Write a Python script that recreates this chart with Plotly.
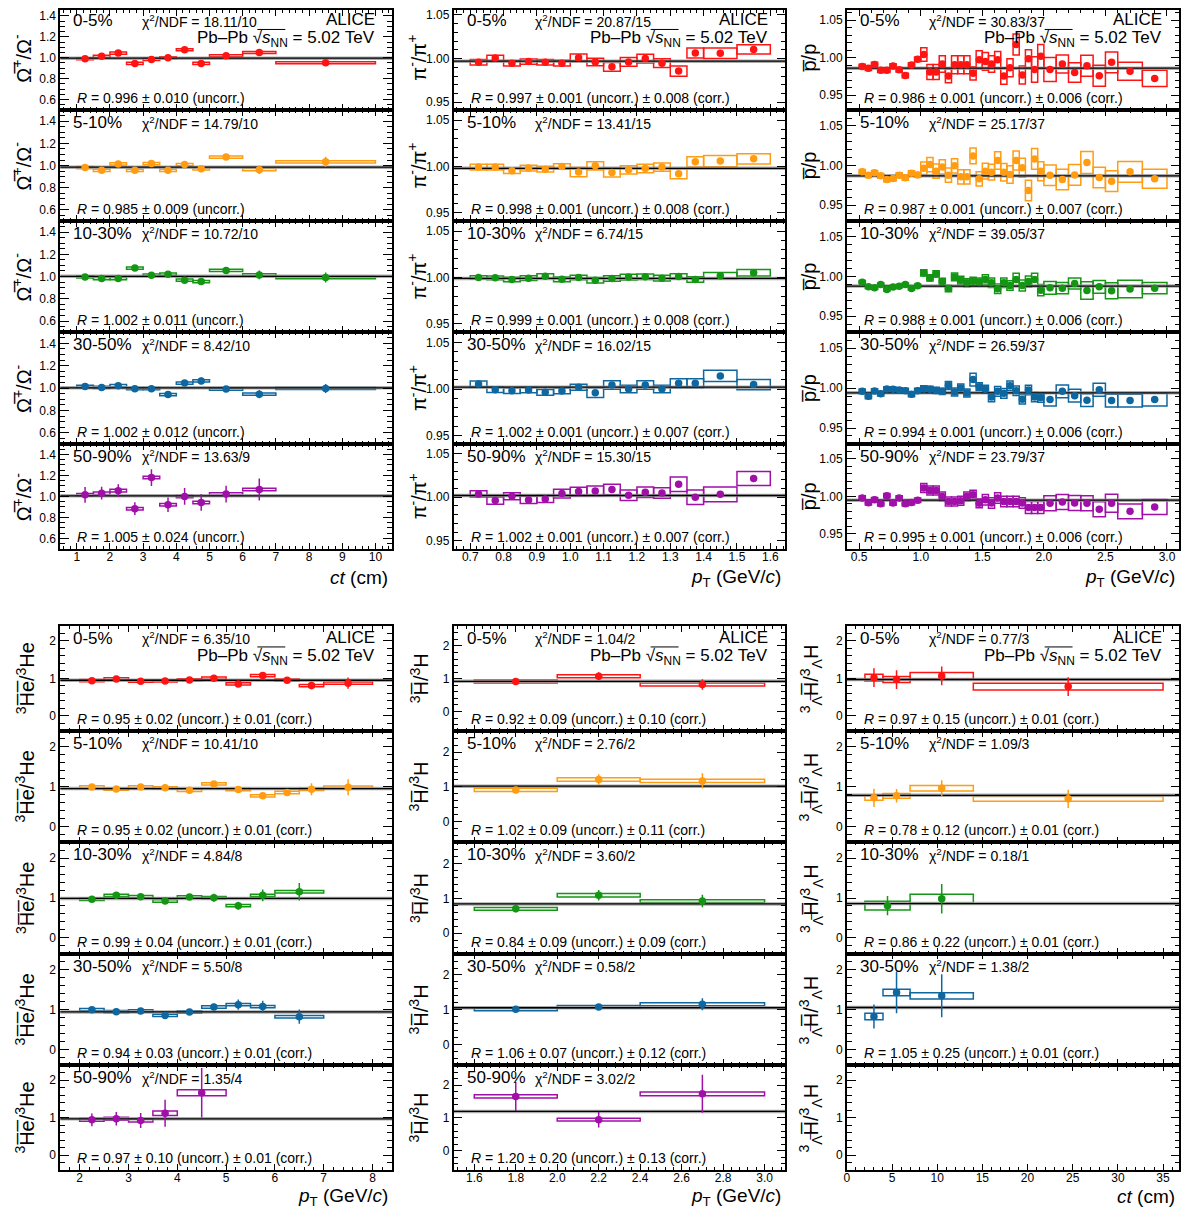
import plotly.graph_objects as go

# page body has an 8px default margin: draw in a slightly smaller figure and shift coordinates
OFF = 8
W, H = 1189 - 2 * OFF, 1214 - OFF
FONT = "Liberation Sans, Arial, Helvetica, sans-serif"

COLORS = ["#ff1414", "#ff9c12", "#149614", "#0f67a0", "#a010a8"]
CENT = ["0-5%", "5-10%", "10-30%", "30-50%", "50-90%"]

# ---------------- Omega+ / Omega-  vs ct ----------------
om_lo = [[1.0, 1.5, 2.0, 2.5, 3.0, 3.5, 4.0, 4.5, 5.0, 6.0, 7.0]] * 4 + [[1.0, 1.5, 2.0, 2.5, 3.0, 3.5, 4.0, 4.5, 5.0, 6.0]]
om_hi = [[1.5, 2.0, 2.5, 3.0, 3.5, 4.0, 4.5, 5.0, 6.0, 7.0, 10.0]] * 4 + [[1.5, 2.0, 2.5, 3.0, 3.5, 4.0, 4.5, 5.0, 6.0, 7.0]]
om_val = [
    [0.990, 1.013, 1.044, 0.946, 0.984, 1.000, 1.076, 0.946, 1.019, 1.050, 0.952],
    [0.982, 0.957, 1.015, 0.957, 1.018, 0.957, 1.009, 0.970, 1.076, 0.963, 1.034],
    [0.997, 0.982, 0.982, 1.076, 1.012, 1.021, 0.967, 0.955, 1.055, 1.015, 0.991],
    [1.015, 1.006, 1.021, 0.994, 0.994, 0.942, 1.045, 1.064, 0.991, 0.945, 0.997],
    [1.015, 1.031, 1.055, 0.883, 1.180, 0.920, 1.000, 0.942, 1.022, 1.065],
]
om_stat = [
    [0.018, 0.018, 0.020, 0.020, 0.020, 0.020, 0.022, 0.022, 0.020, 0.025, 0.030],
    [0.020, 0.020, 0.020, 0.020, 0.020, 0.020, 0.025, 0.030, 0.025, 0.040, 0.045],
    [0.015, 0.015, 0.015, 0.020, 0.020, 0.020, 0.025, 0.030, 0.025, 0.040, 0.045],
    [0.015, 0.015, 0.015, 0.015, 0.020, 0.020, 0.025, 0.030, 0.020, 0.035, 0.040],
    [0.075, 0.060, 0.060, 0.060, 0.080, 0.070, 0.080, 0.080, 0.080, 0.105],
]
om_sys = [
    [0.010, 0.010, 0.010, 0.010, 0.010, 0.010, 0.010, 0.010, 0.010, 0.010, 0.010],
    [0.010, 0.010, 0.010, 0.010, 0.010, 0.010, 0.010, 0.010, 0.010, 0.010, 0.010],
    [0.010, 0.010, 0.010, 0.010, 0.010, 0.010, 0.010, 0.010, 0.010, 0.010, 0.010],
    [0.010, 0.010, 0.010, 0.010, 0.010, 0.010, 0.010, 0.010, 0.010, 0.010, 0.010],
    [0.012, 0.012, 0.012, 0.012, 0.012, 0.012, 0.012, 0.012, 0.012, 0.012],
]
om_R = ["0.996 ± 0.010", "0.985 ± 0.009", "1.002 ± 0.011", "1.002 ± 0.012", "1.005 ± 0.024"]
om_Rval = [0.996, 0.985, 1.002, 1.002, 1.005]
om_chi = ["18.11/10", "14.79/10", "10.72/10", "8.42/10", "13.63/9"]

# ---------------- pi- / pi+ vs pT ----------------
pi_bins_lo = [0.70, 0.75, 0.80, 0.85, 0.90, 0.95, 1.00, 1.05, 1.10, 1.15, 1.20, 1.25, 1.30, 1.35, 1.40, 1.50]
pi_bins_hi = [0.75, 0.80, 0.85, 0.90, 0.95, 1.00, 1.05, 1.10, 1.15, 1.20, 1.25, 1.30, 1.35, 1.40, 1.50, 1.60]
pi_lo = [pi_bins_lo] * 5
pi_hi = [pi_bins_hi] * 5
pi_val = [
    [0.9959, 1.0008, 0.9947, 0.9966, 0.9959, 0.9947, 1.0011, 0.9962, 0.9906, 0.9962, 1.0000, 0.9947, 0.9857, 1.0064, 1.0060, 1.0105],
    [0.9993, 0.9993, 0.9953, 0.9982, 0.9971, 1.0000, 0.9939, 1.0007, 0.9935, 0.9964, 0.9978, 0.9993, 0.9921, 1.0050, 1.0058, 1.0083],
    [1.0000, 0.9996, 0.9978, 0.9993, 1.0014, 0.9980, 1.0000, 0.9970, 0.9990, 1.0004, 1.0007, 0.9993, 1.0010, 0.9978, 1.0018, 1.0050],
    [1.0054, 0.9993, 0.9982, 0.9989, 0.9964, 0.9978, 1.0018, 0.9960, 1.0043, 1.0000, 1.0043, 1.0000, 1.0061, 1.0061, 1.0140, 1.0047],
    [1.0038, 0.9962, 1.0011, 0.9970, 0.9980, 1.0042, 1.0065, 1.0073, 1.0088, 1.0023, 1.0057, 1.0050, 1.0149, 1.0000, 1.0034, 1.0214],
]
pi_stat = [
    [0.0005, 0.0005, 0.0005, 0.0005, 0.0005, 0.0005, 0.0005, 0.0005, 0.0005, 0.0005, 0.0005, 0.0005, 0.0005, 0.0005, 0.0005, 0.0005],
] * 5
pi_sys = [
    [0.0032, 0.0030, 0.0032, 0.0030, 0.0032, 0.0033, 0.0043, 0.0043, 0.0050, 0.0050, 0.0050, 0.0050, 0.0058, 0.0056, 0.0060, 0.0053],
    [0.0030, 0.0030, 0.0030, 0.0030, 0.0030, 0.0030, 0.0050, 0.0045, 0.0050, 0.0045, 0.0045, 0.0045, 0.0054, 0.0055, 0.0060, 0.0055],
    [0.0020, 0.0020, 0.0025, 0.0025, 0.0025, 0.0025, 0.0025, 0.0030, 0.0030, 0.0030, 0.0030, 0.0030, 0.0030, 0.0030, 0.0035, 0.0035],
    [0.0032, 0.0030, 0.0030, 0.0030, 0.0030, 0.0030, 0.0032, 0.0050, 0.0045, 0.0040, 0.0045, 0.0040, 0.0050, 0.0050, 0.0060, 0.0054],
    [0.0036, 0.0042, 0.0040, 0.0042, 0.0040, 0.0050, 0.0050, 0.0055, 0.0060, 0.0060, 0.0060, 0.0060, 0.0084, 0.0084, 0.0084, 0.0080],
]
pi_R = ["0.997 ± 0.001", "0.998 ± 0.001", "0.999 ± 0.001", "1.002 ± 0.001", "1.002 ± 0.001"]
pi_Rc = ["0.008", "0.008", "0.008", "0.007", "0.007"]
pi_Rval = [0.997, 0.998, 0.999, 1.002, 1.002]
pi_chi = ["20.87/15", "13.41/15", "6.74/15", "16.02/15", "15.30/15"]

# ---------------- pbar / p vs pT ----------------
p_bins_lo = [0.50, 0.55, 0.60, 0.65, 0.70, 0.75, 0.80, 0.85, 0.90, 0.95,
             1.00, 1.05, 1.10, 1.15, 1.20, 1.25, 1.30, 1.35, 1.40, 1.45,
             1.50, 1.55, 1.60, 1.65, 1.70, 1.75, 1.80, 1.85, 1.90, 1.95,
             2.0, 2.1, 2.2, 2.3, 2.4, 2.5, 2.6, 2.8]
p_bins_hi = [0.55, 0.60, 0.65, 0.70, 0.75, 0.80, 0.85, 0.90, 0.95, 1.00,
             1.05, 1.10, 1.15, 1.20, 1.25, 1.30, 1.35, 1.40, 1.45, 1.50,
             1.55, 1.60, 1.65, 1.70, 1.75, 1.80, 1.85, 1.90, 1.95, 2.00,
             2.1, 2.2, 2.3, 2.4, 2.5, 2.6, 2.8, 3.0]
p_lo = [p_bins_lo] * 5
p_hi = [p_bins_hi] * 5
p_val = [
    [0.9884, 0.9858, 0.9911, 0.9831, 0.9831, 0.9889, 0.9840, 0.9764, 0.9902, 0.9978,
     1.0044, 0.9809, 0.9809, 0.9916, 0.9756, 0.9907, 0.9907, 0.9907, 0.9791, 0.9973,
     0.9951, 0.9916, 0.9973, 0.9756, 0.9867, 1.0178, 0.9769, 0.9987, 0.9844, 1.0018,
     0.9844, 0.9916, 0.9804, 0.9893, 0.9760, 0.9938, 0.9818, 0.9724],
    [0.9920, 0.9878, 0.9908, 0.9870, 0.9824, 0.9836, 0.9878, 0.9845, 0.9903, 0.9882,
     0.9966, 1.0013, 0.9929, 0.9983, 0.9878, 0.9996, 0.9857, 0.9857, 1.0122, 0.9832,
     0.9929, 0.9916, 1.0063, 0.9916, 0.9887, 1.0063, 0.9971, 0.9685, 1.0084, 0.9929,
     0.9878, 0.9824, 0.9882, 1.0038, 0.9849, 0.9803, 0.9920, 0.9832],
    [0.9929, 0.9871, 0.9858, 0.9900, 0.9838, 0.9867, 0.9879, 0.9900, 0.9850, 0.9883,
     1.0046, 0.9983, 1.0033, 0.9938, 0.9850, 0.9996, 0.9954, 0.9921, 0.9942, 0.9933,
     0.9963, 0.9921, 0.9846, 0.9921, 0.9888, 0.9963, 0.9888, 0.9938, 0.9963, 0.9829,
     0.9858, 0.9854, 0.9913, 0.9825, 0.9871, 0.9821, 0.9842, 0.9854],
    [0.9959, 0.9897, 0.9963, 0.9930, 0.9988, 0.9984, 0.9975, 0.9967, 0.9922, 0.9967,
     0.9988, 0.9984, 0.9971, 0.9959, 1.0033, 0.9951, 1.0000, 0.9938, 1.0107, 1.0016,
     0.9984, 0.9889, 0.9959, 0.9934, 1.0029, 0.9967, 0.9860, 0.9975, 0.9889, 0.9881,
     0.9856, 0.9959, 0.9905, 0.9848, 0.9979, 0.9844, 0.9844, 0.9856],
    [0.9978, 0.9916, 0.9956, 0.9902, 1.0009, 0.9911, 0.9978, 0.9902, 0.9920, 0.9947,
     1.0111, 1.0080, 1.0080, 1.0000, 0.9933, 0.9933, 0.9942, 1.0000, 1.0022, 0.9907,
     0.9956, 0.9911, 0.9978, 0.9933, 0.9933, 0.9933, 0.9911, 0.9853, 0.9853, 0.9853,
     0.9907, 0.9924, 0.9911, 0.9907, 0.9827, 0.9907, 0.9800, 0.9858],
]
p_stat = [
    [0.0008, 0.0008, 0.0008, 0.0008, 0.0008, 0.0008, 0.0008, 0.0008, 0.0008, 0.0008,
     0.0008, 0.0008, 0.0008, 0.0008, 0.0008, 0.0008, 0.0008, 0.0008, 0.0008, 0.0008,
     0.0008, 0.0008, 0.0008, 0.0008, 0.0008, 0.0008, 0.0008, 0.0008, 0.0008, 0.0008,
     0.0010, 0.0010, 0.0010, 0.0010, 0.0010, 0.0010, 0.0010, 0.0010],
] * 5
p_sys = [
    [0.003, 0.003, 0.003, 0.003, 0.003, 0.003, 0.003, 0.003, 0.003, 0.003,
     0.009, 0.010, 0.010, 0.011, 0.009, 0.012, 0.012, 0.012, 0.009, 0.012,
     0.012, 0.011, 0.011, 0.011, 0.012, 0.014, 0.012, 0.012, 0.017, 0.016,
     0.016, 0.012, 0.013, 0.014, 0.014, 0.014, 0.012, 0.011],
    [0.003, 0.003, 0.003, 0.003, 0.003, 0.003, 0.003, 0.003, 0.003, 0.003,
     0.008, 0.009, 0.009, 0.009, 0.009, 0.009, 0.009, 0.009, 0.010, 0.009,
     0.010, 0.010, 0.011, 0.011, 0.011, 0.012, 0.012, 0.013, 0.013, 0.012,
     0.013, 0.013, 0.013, 0.014, 0.013, 0.013, 0.013, 0.012],
    [0.002, 0.002, 0.002, 0.002, 0.002, 0.002, 0.002, 0.002, 0.002, 0.002,
     0.004, 0.004, 0.004, 0.004, 0.004, 0.005, 0.005, 0.005, 0.005, 0.005,
     0.006, 0.006, 0.006, 0.006, 0.006, 0.008, 0.007, 0.007, 0.008, 0.007,
     0.008, 0.007, 0.007, 0.011, 0.008, 0.010, 0.011, 0.007],
    [0.003, 0.003, 0.003, 0.003, 0.003, 0.003, 0.003, 0.003, 0.003, 0.003,
     0.004, 0.004, 0.004, 0.004, 0.005, 0.005, 0.005, 0.005, 0.008, 0.005,
     0.005, 0.006, 0.006, 0.006, 0.006, 0.006, 0.006, 0.006, 0.006, 0.006,
     0.008, 0.008, 0.008, 0.008, 0.008, 0.008, 0.008, 0.008],
    [0.003, 0.003, 0.003, 0.003, 0.003, 0.003, 0.003, 0.003, 0.003, 0.003,
     0.006, 0.006, 0.006, 0.006, 0.006, 0.006, 0.006, 0.006, 0.006, 0.006,
     0.007, 0.007, 0.007, 0.007, 0.007, 0.007, 0.007, 0.008, 0.008, 0.008,
     0.010, 0.010, 0.010, 0.010, 0.010, 0.012, 0.010, 0.010],
]
p_R = ["0.986 ± 0.001", "0.987 ± 0.001", "0.988 ± 0.001", "0.994 ± 0.001", "0.995 ± 0.001"]
p_Rc = ["0.006", "0.007", "0.006", "0.006", "0.006"]
p_Rval = [0.986, 0.987, 0.988, 0.994, 0.995]
p_chi = ["30.83/37", "25.17/37", "39.05/37", "26.59/37", "23.79/37"]

# ---------------- 3He-bar / 3He vs pT ----------------
he_lo = [
    [2.0, 2.5, 3.0, 3.5, 4.0, 4.5, 5.0, 5.5, 6.0, 6.5, 7.0],
    [2.0, 2.5, 3.0, 3.5, 4.0, 4.5, 5.0, 5.5, 6.0, 6.5, 7.0],
    [2.0, 2.5, 3.0, 3.5, 4.0, 4.5, 5.0, 5.5, 6.0],
    [2.0, 2.5, 3.0, 3.5, 4.0, 4.5, 5.0, 5.5, 6.0],
    [2.0, 2.5, 3.0, 3.5, 4.0],
]
he_hi = [
    [2.5, 3.0, 3.5, 4.0, 4.5, 5.0, 5.5, 6.0, 6.5, 7.0, 8.0],
    [2.5, 3.0, 3.5, 4.0, 4.5, 5.0, 5.5, 6.0, 6.5, 7.0, 8.0],
    [2.5, 3.0, 3.5, 4.0, 4.5, 5.0, 5.5, 6.0, 7.0],
    [2.5, 3.0, 3.5, 4.0, 4.5, 5.0, 5.5, 6.0, 7.0],
    [2.5, 3.0, 3.5, 4.0, 5.0],
]
he_val = [
    [0.940, 0.987, 0.924, 0.933, 0.960, 1.004, 0.853, 1.076, 0.951, 0.809, 0.871],
    [0.990, 0.940, 0.990, 0.967, 0.908, 1.067, 0.925, 0.767, 0.850, 0.933, 0.983],
    [0.967, 1.067, 1.033, 0.925, 1.025, 1.008, 0.808, 1.067, 1.158],
    [0.996, 0.945, 0.962, 0.852, 0.937, 1.063, 1.122, 1.072, 0.819],
    [0.943, 0.969, 0.925, 1.119, 1.665],
]
he_stat = [
    [0.030, 0.030, 0.030, 0.030, 0.035, 0.040, 0.050, 0.070, 0.080, 0.100, 0.150],
    [0.030, 0.030, 0.035, 0.040, 0.040, 0.050, 0.060, 0.050, 0.080, 0.150, 0.200],
    [0.040, 0.040, 0.040, 0.040, 0.050, 0.100, 0.100, 0.150, 0.220],
    [0.040, 0.040, 0.040, 0.040, 0.040, 0.080, 0.130, 0.150, 0.180],
    [0.170, 0.180, 0.200, 0.360, 0.660],
]
he_sys = [
    [0.030, 0.030, 0.030, 0.030, 0.030, 0.030, 0.030, 0.030, 0.030, 0.030, 0.030],
    [0.030, 0.030, 0.030, 0.030, 0.030, 0.030, 0.030, 0.030, 0.030, 0.030, 0.030],
    [0.030, 0.030, 0.030, 0.030, 0.030, 0.030, 0.030, 0.030, 0.030],
    [0.030, 0.030, 0.030, 0.030, 0.030, 0.030, 0.030, 0.030, 0.030],
    [0.040, 0.040, 0.040, 0.060, 0.080],
]
he_R = ["0.95 ± 0.02", "0.95 ± 0.02", "0.99 ± 0.04", "0.94 ± 0.03", "0.97 ± 0.10"]
he_Rc = ["0.01", "0.01", "0.01", "0.01", "0.01"]
he_Rval = [0.95, 0.95, 0.99, 0.94, 0.97]
he_chi = ["6.35/10", "10.41/10", "4.84/8", "5.50/8", "1.35/4"]

# ---------------- 3H-bar / 3H vs pT ----------------
h3_lo = [[1.6, 2.0, 2.4]] * 5
h3_hi = [[2.0, 2.4, 3.0]] * 5
h3_val = [
    [0.914, 1.076, 0.822],
    [0.913, 1.210, 1.173],
    [0.700, 1.087, 0.922],
    [1.014, 1.082, 1.159],
    [1.657, 0.950, 1.737],
]
h3_stat = [
    [0.09, 0.12, 0.16],
    [0.09, 0.15, 0.22],
    [0.10, 0.15, 0.18],
    [0.06, 0.08, 0.17],
    [0.44, 0.24, 0.58],
]
h3_sys = [
    [0.045, 0.045, 0.045],
    [0.045, 0.050, 0.050],
    [0.040, 0.050, 0.040],
    [0.040, 0.040, 0.045],
    [0.050, 0.040, 0.060],
]
h3_R = ["0.92 ± 0.09", "1.02 ± 0.09", "0.84 ± 0.09", "1.06 ± 0.07", "1.20 ± 0.20"]
h3_Rc = ["0.10", "0.11", "0.09", "0.12", "0.13"]
h3_Rval = [0.92, 1.02, 0.84, 1.06, 1.20]
h3_chi = ["1.04/2", "2.76/2", "3.60/2", "0.58/2", "3.02/2"]

# ---------------- hypertriton ratio vs ct ----------------
hy_lo = [[2, 4, 7, 14], [2, 4, 7, 14], [2, 7], [2, 4, 7], []]
hy_hi = [[4, 7, 14, 35], [4, 7, 14, 35], [7, 14], [4, 7, 14], []]
hy_val = [
    [1.020, 0.969, 1.067, 0.782],
    [0.717, 0.767, 0.958, 0.692],
    [0.808, 0.983],
    [0.825, 1.425, 1.342],
    [],
]
hy_stat = [
    [0.25, 0.25, 0.25, 0.25],
    [0.23, 0.17, 0.20, 0.23],
    [0.24, 0.37],
    [0.30, 0.52, 0.54],
    [],
]
hy_sys = [
    [0.09, 0.08, 0.09, 0.09],
    [0.06, 0.06, 0.07, 0.06],
    [0.11, 0.11],
    [0.08, 0.08, 0.08],
    [],
]
hy_R = ["0.97 ± 0.15", "0.78 ± 0.12", "0.86 ± 0.22", "1.05 ± 0.25", None]
hy_Rc = ["0.01", "0.01", "0.01", "0.01", None]
hy_Rval = [0.97, 0.78, 0.86, 1.05, None]
hy_chi = ["0.77/3", "1.09/3", "0.18/1", "1.38/2", None]

# ---------------- panel configuration ----------------
XT_CT = "<i>ct</i> (cm)"
XT_PT = "<i>p</i><sub>T</sub> (GeV/<i>c</i>)"
species = [
    dict(lo=om_lo, hi=om_hi, val=om_val, stat=om_stat, sys=om_sys, R=om_R, Rc=None, Rval=om_Rval, chi=om_chi,
         xr=[0.5, 10.5], yr=[0.5, 1.5], xt0=1, xdt=1, xmin=0.2, xfmt="", yt0=0.6, ydt=0.2, ymin=0.05, yfmt=".1f",
         ytitle="Ω\u0305<sup>+</sup>/Ω<sup>-</sup>", xtitle=XT_CT, ytx=19),
    dict(lo=pi_lo, hi=pi_hi, val=pi_val, stat=pi_stat, sys=pi_sys, R=pi_R, Rc=pi_Rc, Rval=pi_Rval, chi=pi_chi,
         xr=[0.65, 1.645], yr=[0.941, 1.061], xt0=0.7, xdt=0.1, xmin=0.02, xfmt=".1f", yt0=0.95, ydt=0.05, ymin=0.01, yfmt=".2f",
         ytitle="π<sup>-</sup>/π<sup>+</sup>", xtitle=XT_PT, ytx=415),
    dict(lo=p_lo, hi=p_hi, val=p_val, stat=p_stat, sys=p_sys, R=p_R, Rc=p_Rc, Rval=p_Rval, chi=p_chi,
         xr=[0.4, 3.1], yr=[0.93, 1.07], xt0=0.5, xdt=0.5, xmin=0.1, xfmt=".1f", yt0=0.95, ydt=0.05, ymin=0.01, yfmt=".2f",
         ytitle="p\u0305/p", xtitle=XT_PT, ytx=808),
    dict(lo=he_lo, hi=he_hi, val=he_val, stat=he_stat, sys=he_sys, R=he_R, Rc=he_Rc, Rval=he_Rval, chi=he_chi,
         xr=[1.6, 8.4], yr=[-0.4, 2.4], xt0=2, xdt=1, xmin=0.2, xfmt="", yt0=0, ydt=1, ymin=0.2, yfmt="",
         ytitle="<sup>3</sup>H\u0305e\u0305/<sup>3</sup>He", xtitle=XT_PT, ytx=22),
    dict(lo=h3_lo, hi=h3_hi, val=h3_val, stat=h3_stat, sys=h3_sys, R=h3_R, Rc=h3_Rc, Rval=h3_Rval, chi=h3_chi,
         xr=[1.5, 3.1], yr=[-0.59, 2.61], xt0=1.6, xdt=0.2, xmin=0.04, xfmt=".1f", yt0=0, ydt=1, ymin=0.2, yfmt="",
         ytitle="<sup>3</sup>H\u0305/<sup>3</sup>H", xtitle=XT_PT, ytx=417),
    dict(lo=hy_lo, hi=hy_hi, val=hy_val, stat=hy_stat, sys=hy_sys, R=hy_R, Rc=hy_Rc, Rval=hy_Rval, chi=hy_chi,
         xr=[0, 36.8], yr=[-0.4, 2.4], xt0=0, xdt=5, xmin=1, xfmt="", yt0=0, ydt=1, ymin=0.2, yfmt="",
         ytitle="<sup>3</sup><sub>Λ\u0305</sub>H\u0305/<sup>3</sup><sub>Λ</sub>H", xtitle=XT_CT, ytx=810),
]

COLS_X = [(57.3, 390.0), (451.7, 784.3), (846.0, 1179.3)]
ROWS_Y = [[3.3, 108.3, 219.3, 330.7, 442.7, 547.7],
          [625.0, 730.0, 841.7, 953.3, 1065.0, 1170.0]]
XTITLE_Y = [576.5, 1196.5]

fig = go.Figure()
layout = dict(width=W, height=H, margin=dict(l=0, r=0, t=0, b=0, pad=0),
              paper_bgcolor="white", plot_bgcolor="white", showlegend=False,
              barmode="overlay", font=dict(family=FONT, color="black"))
annotations = []
shapes = []


def px(x):
    return (x - OFF) / W


def py(y):
    return 1 - (y - OFF) / H


def ann(x, y, text, size, xanchor="left", yanchor="middle", angle=0, pad=1):
    annotations.append(dict(x=px(x), y=py(y), xref="paper", yref="paper", text=text, showarrow=False,
                            xanchor=xanchor, yanchor=yanchor, textangle=angle, borderpad=pad,
                            font=dict(family=FONT, size=size, color="black")))


n = 0
for si, sp in enumerate(species):
    block = si // 3
    col = si % 3
    xl, xr = COLS_X[col]
    rows = ROWS_Y[block]
    for r in range(5):
        n += 1
        yt, yb = rows[r], rows[r + 1]
        yrange = list(sp["yr"])
        yt_dom = yt
        if yt < OFF:
            # the frame cannot start above the page margin: trim the range so the scale stays the same
            yrange[1] = yrange[1] - (OFF - yt) / (yb - yt) * (yrange[1] - yrange[0])
            yt_dom = OFF
        xa = "x" if n == 1 else f"x{n}"
        ya = "y" if n == 1 else f"y{n}"
        bottom = (r == 4)
        xaxis = dict(domain=[px(xl), px(xr)], anchor=ya, range=sp["xr"], showline=True, linecolor="black",
                     linewidth=1.5, mirror="allticks", ticks="inside", ticklen=6, tickwidth=1, tickcolor="black",
                     tick0=sp["xt0"], dtick=sp["xdt"], tickformat=sp["xfmt"], showgrid=False, zeroline=False,
                     showticklabels=bottom, tickfont=dict(family=FONT, size=12, color="black"),
                     ticklabelstandoff=-4,
                     minor=dict(ticks="inside", ticklen=3, tickwidth=1, tickcolor="black",
                                dtick=sp["xmin"], tick0=sp["xt0"], showgrid=False))
        yaxis = dict(domain=[py(yb), min(1.0, py(yt_dom))], anchor=xa, range=yrange, showline=True, linecolor="black",
                     linewidth=1.5, mirror="allticks", ticks="inside", ticklen=9, tickwidth=1, tickcolor="black",
                     tick0=sp["yt0"], dtick=sp["ydt"], tickformat=sp["yfmt"], showgrid=False, zeroline=False,
                     tickfont=dict(family=FONT, size=12, color="black"),
                     minor=dict(ticks="inside", ticklen=5, tickwidth=1, tickcolor="black",
                                dtick=sp["ymin"], tick0=sp["yt0"], showgrid=False))
        layout["xaxis" if n == 1 else f"xaxis{n}"] = xaxis
        layout["yaxis" if n == 1 else f"yaxis{n}"] = yaxis

        color = COLORS[r]
        lo, hi, val = sp["lo"][r], sp["hi"][r], sp["val"][r]
        stat, sysv = sp["stat"][r], sp["sys"][r]
        cen = [(a + b) / 2 for a, b in zip(lo, hi)]
        wid = [b - a for a, b in zip(lo, hi)]

        if sp["Rval"][r] is not None:
            fig.add_trace(go.Scatter(x=sp["xr"], y=[sp["Rval"][r]] * 2, mode="lines", xaxis=xa, yaxis=ya,
                                     line=dict(color="rgba(150,150,150,0.8)", width=3.5), hoverinfo="skip"))
            fig.add_trace(go.Scatter(x=sp["xr"], y=[sp["Rval"][r]] * 2, mode="lines", xaxis=xa, yaxis=ya,
                                     line=dict(color="black", width=1.3), hoverinfo="skip"))
        else:
            # empty panel: keep the frame and axes visible
            fig.add_trace(go.Scatter(x=[None], y=[None], mode="markers", xaxis=xa, yaxis=ya, hoverinfo="skip"))
        if val:
            fig.add_trace(go.Bar(x=cen, y=[2 * s for s in sysv], base=[v - s for v, s in zip(val, sysv)],
                                 width=wid, xaxis=xa, yaxis=ya,
                                 marker=dict(color="rgba(255,255,255,0)", line=dict(color=color, width=1.5)),
                                 hoverinfo="skip"))
            fig.add_trace(go.Scatter(x=cen, y=val, mode="markers", xaxis=xa, yaxis=ya,
                                     marker=dict(color=color, size=7.5, symbol="circle"),
                                     error_y=dict(type="data", array=stat, width=0, thickness=1.5, color=color)))

        # texts (keep the first row's texts inside the page)
        ty = max(yt, OFF - 1.5)
        if sp["chi"][r] is not None:
            ann(xl + 11, ty + 12.5, CENT[r], 17)
            ann(xl + 81, ty + 12.5, "χ<sup>2</sup>/NDF = " + sp["chi"][r], 14, pad=0)
            txt = "<i>R</i> = " + sp["R"][r] + " (uncorr.)"
            if sp["Rc"] is not None:
                txt += " ± " + sp["Rc"][r] + " (corr.)"
            ann(xl + 15, yb - 12, txt, 14)
        if r == 0:
            ann(xr - 16, ty + 11.5, "ALICE", 17, xanchor="right", pad=0)
            ann(xr - 16, ty + 31, "Pb–Pb √<i>s</i><sub>NN</sub> = 5.02 TeV", 17, xanchor="right", pad=0)
            # overline of the square root
            shapes.append(dict(type="line", xref="paper", yref="paper",
                               x0=px(xr - 135), x1=px(xr - 107), y0=py(ty + 21), y1=py(ty + 21),
                               line=dict(color="black", width=1)))
        ann(sp["ytx"], (yt + yb) / 2, sp["ytitle"], 20, xanchor="center", yanchor="middle", angle=-90)
    ann(xr - 2, XTITLE_Y[block], sp["xtitle"], 19, xanchor="right")

layout["annotations"] = annotations
layout["shapes"] = shapes
fig.update_layout(**layout)
fig.write_html("out.html")
